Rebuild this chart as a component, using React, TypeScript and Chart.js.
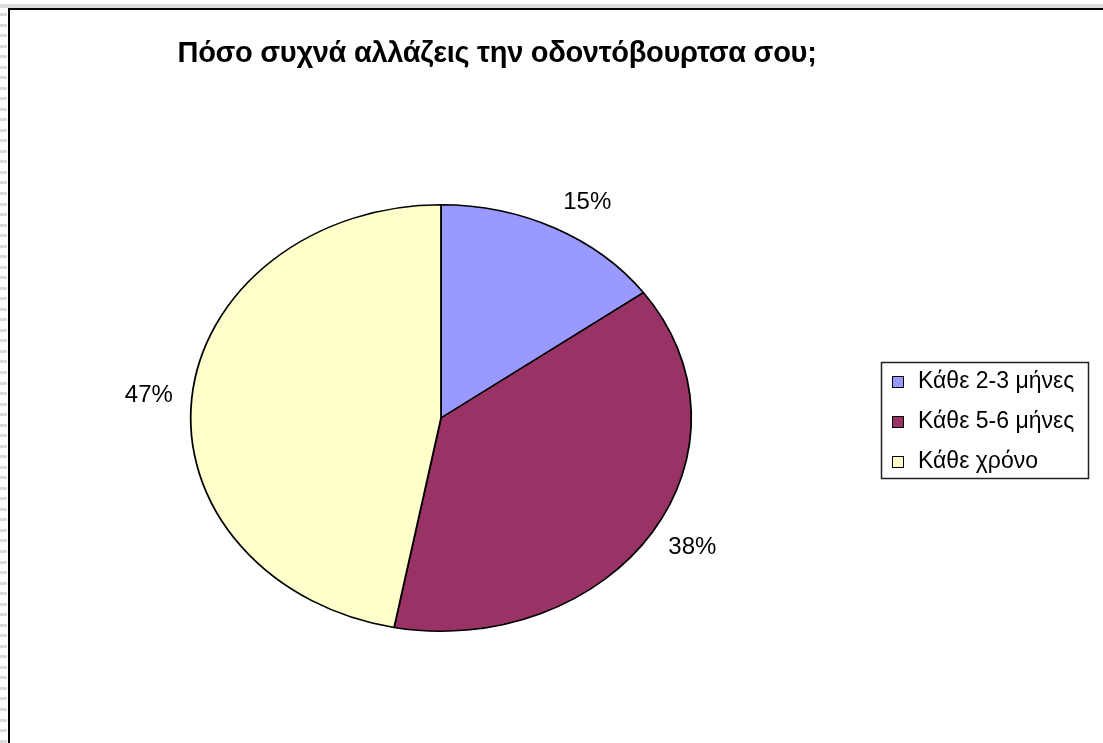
import React, { useEffect, useRef } from "react";
import { Chart, registerables } from "chart.js";

Chart.register(...registerables);

const categories = ["Κάθε 2-3 μήνες", "Κάθε 5-6 μήνες", "Κάθε χρόνο"];
const values = [15, 38, 47];
const sliceColors = ["#9999FF", "#993366", "#FFFFCC"];
const titleText = "Πόσο συχνά αλλάζεις την οδοντόβουρτσα σου;";

const FONT = "'Liberation Sans', Arial, sans-serif";
const SX = 250 / 213;

const framePlugin = {
  id: "frame",
  beforeDraw(chart: any) {
    const ctx = chart.ctx;
    const W = chart.width;
    const H = chart.height;
    ctx.save();
    ctx.fillStyle = "#ffffff";
    ctx.fillRect(0, 0, W, H);
    ctx.fillStyle = "#dcdcdc";
    ctx.fillRect(0, 4, W, 4);
    for (let y = 13; y < H; y += 10.53) {
      ctx.fillRect(0, Math.round(y), 7, 3);
    }
    ctx.fillStyle = "#000000";
    ctx.fillRect(8, 8, W - 8, 2);
    ctx.fillRect(8, 8, 2, H - 8);
    ctx.restore();
  },
};

const ellipsePlugin = {
  id: "ellipse",
  beforeDatasetsDraw(chart: any) {
    const arc = chart.getDatasetMeta(0).data[0];
    const ctx = chart.ctx;
    ctx.save();
    ctx.translate(arc.x, arc.y);
    ctx.scale(SX, 1);
    ctx.translate(-arc.x, -arc.y);
  },
  afterDatasetsDraw(chart: any) {
    const ctx = chart.ctx;
    ctx.restore();
    const meta = chart.getDatasetMeta(0);
    const data = chart.data.datasets[0].data as number[];
    const total = data.reduce((a, b) => a + b, 0);
    ctx.save();
    ctx.font = `24px ${FONT}`;
    ctx.fillStyle = "#000";
    ctx.textAlign = "center";
    ctx.textBaseline = "middle";
    const g = 19;
    meta.data.forEach((arc: any, i: number) => {
      const mid = (arc.startAngle + arc.endAngle) / 2;
      const txt = Math.round((data[i] / total) * 100) + "%";
      const hw = ctx.measureText(txt).width / 2;
      const hh = 10;
      const c = Math.cos(mid);
      const s = Math.sin(mid);
      const px = arc.x + c * (arc.outerRadius * SX + g) + Math.sign(c) * hw;
      const py = arc.y + s * (arc.outerRadius + g) + s * hh;
      ctx.fillText(txt, px, py);
    });
    ctx.restore();
  },
};

const textPlugin = {
  id: "texts",
  afterDraw(chart: any) {
    const ctx = chart.ctx;
    ctx.save();
    // title
    ctx.font = `bold 29px ${FONT}`;
    ctx.fillStyle = "#000";
    ctx.textAlign = "center";
    ctx.textBaseline = "alphabetic";
    try {
      (ctx as any).letterSpacing = "-0.3px";
    } catch (e) {}
    ctx.fillText(chart.options.plugins.customTitle.text, 497, 62);
    try {
      (ctx as any).letterSpacing = "0px";
    } catch (e) {}
    // legend
    const labels = chart.data.labels as string[];
    const colors = chart.data.datasets[0].backgroundColor as string[];
    ctx.strokeStyle = "#222";
    ctx.lineWidth = 1.5;
    ctx.strokeRect(881.5, 362.5, 207, 116);
    ctx.font = `23px ${FONT}`;
    ctx.textAlign = "left";
    ctx.textBaseline = "middle";
    labels.forEach((lab, i) => {
      const cy = 382 + i * 40;
      ctx.fillStyle = colors[i];
      ctx.fillRect(893, cy - 5, 10, 10);
      ctx.strokeStyle = "#000";
      ctx.lineWidth = 1;
      ctx.strokeRect(892.5, cy - 5.5, 11, 11);
      ctx.fillStyle = "#000";
      ctx.fillText(lab, 918, cy);
    });
    ctx.restore();
  },
};

export default function App() {
  const ref = useRef<HTMLCanvasElement | null>(null);
  useEffect(() => {
    if (!ref.current) return;
    const chart = new Chart(ref.current, {
      type: "pie",
      data: {
        labels: categories,
        datasets: [
          {
            data: values,
            backgroundColor: sliceColors,
            borderColor: "#000000",
            borderWidth: 1.5,
          },
        ],
      },
      options: {
        responsive: false,
        animation: false,
        events: [],
        layout: { padding: { left: 227, right: 448, top: 204, bottom: 111 } },
        plugins: {
          legend: { display: false },
          tooltip: { enabled: false },
          title: { display: false },
          customTitle: { text: titleText },
        } as any,
      },
      plugins: [framePlugin, ellipsePlugin, textPlugin],
    });
    return () => chart.destroy();
  }, []);
  return (
    <div style={{ position: "fixed", left: 0, top: 0, width: 1103, height: 743, background: "#fff" }}>
      <canvas ref={ref} width={1103} height={743} style={{ display: "block", width: 1103, height: 743 }} />
    </div>
  );
}
